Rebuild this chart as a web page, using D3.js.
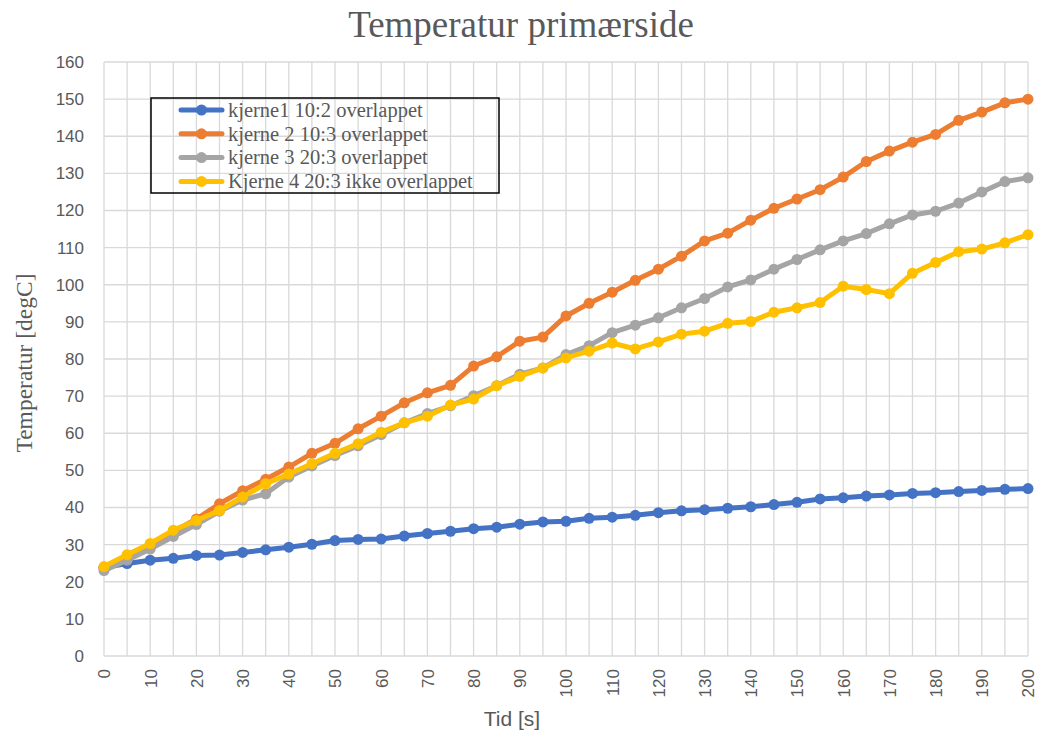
<!DOCTYPE html>
<html><head><meta charset="utf-8">
<script src="https://cdn.jsdelivr.net/npm/d3@7"></script>
<style>body{margin:0;background:#fff}</style>
</head><body>
<svg id="c" width="1037" height="731"></svg>
<script>
const times = d3.range(0, 201, 5);
const xTickLabels = d3.range(0, 201, 10);
const yTickLabels = d3.range(0, 161, 10);
const seriesNames = ["kjerne1 10:2 overlappet", "kjerne 2 10:3 overlappet", "kjerne 3 20:3 overlappet", "Kjerne 4 20:3 ikke overlappet"];
const seriesColors = ["#4472C4", "#ED7D31", "#A5A5A5", "#FFC000"];
const kjerne1 = [23.8,24.9,25.8,26.3,27.1,27.2,27.9,28.6,29.3,30.1,31.1,31.4,31.5,32.3,33.0,33.6,34.3,34.7,35.5,36.1,36.3,37.1,37.4,37.9,38.6,39.1,39.4,39.8,40.2,40.8,41.4,42.3,42.6,43.1,43.4,43.8,44.0,44.3,44.6,44.9,45.1];
const kjerne2 = [23.8,26.5,29.6,33.5,36.9,41.0,44.5,47.6,50.9,54.6,57.3,61.2,64.6,68.2,70.9,72.9,78.1,80.6,84.8,85.9,91.6,95.0,98.0,101.2,104.2,107.7,111.8,113.9,117.4,120.6,123.1,125.6,129.0,133.2,136.0,138.4,140.5,144.3,146.5,149.0,150.0];
const kjerne3 = [23.0,25.8,28.8,32.2,35.4,39.0,42.0,43.7,48.2,51.2,54.0,56.6,59.6,62.8,65.3,67.4,70.1,72.8,75.9,77.6,81.2,83.6,87.1,89.1,91.1,93.8,96.3,99.4,101.3,104.2,106.8,109.4,111.8,113.8,116.4,118.8,119.8,122.0,125.0,127.8,128.8];
const kjerne4 = [24.1,27.3,30.3,33.9,36.5,39.2,42.8,46.4,49.0,51.8,54.6,57.2,60.3,62.8,64.6,67.6,69.2,72.8,75.3,77.6,80.3,82.1,84.3,82.7,84.6,86.7,87.5,89.6,90.1,92.6,93.8,95.2,99.6,98.7,97.6,103.1,106.0,108.9,109.6,111.3,113.5];
const allSeries = [kjerne1, kjerne2, kjerne3, kjerne4];

const svg = d3.select("#c");
const L = 104, R = 1028, T = 62, B = 656;
const x = d3.scaleLinear().domain([0, 200]).range([L, R]);
const y = d3.scaleLinear().domain([0, 160]).range([B, T]);
const txt = "#595959", grid = "#d9d9d9";
const sans = "'Liberation Sans', Arial, sans-serif";
const serif = "'Liberation Serif', 'Times New Roman', serif";

// grid
svg.append("g").selectAll("line").data(yTickLabels).join("line")
  .attr("x1", L).attr("x2", R).attr("y1", d => y(d)).attr("y2", d => y(d))
  .attr("stroke", grid).attr("stroke-width", 1.3);
svg.append("g").selectAll("line").data(times).join("line")
  .attr("x1", d => x(d)).attr("x2", d => x(d)).attr("y1", T).attr("y2", B)
  .attr("stroke", grid).attr("stroke-width", 1.3);

// axes
const yAxis = d3.axisLeft(y).tickValues(yTickLabels).tickSize(0).tickPadding(0);
const gy = svg.append("g").attr("transform", `translate(${L - 20},0)`).call(yAxis);
gy.select(".domain").remove();
gy.selectAll("text").attr("fill", txt).style("font-family", sans).style("font-size", "17px");

const xAxis = d3.axisBottom(x).tickValues(xTickLabels).tickSize(0).tickPadding(0);
const gx = svg.append("g").attr("transform", `translate(0,${B + 13})`).call(xAxis);
gx.select(".domain").remove();
gx.selectAll("text").attr("fill", txt).style("font-family", sans).style("font-size", "17px")
  .attr("transform", "rotate(-90)").attr("text-anchor", "end").attr("dy", "0.35em").attr("y", 0).attr("x", 0);

// series
const line = d3.line().x((d, i) => x(times[i])).y(d => y(d));
allSeries.forEach((s, k) => {
  const g = svg.append("g");
  g.append("path").datum(s).attr("d", line).attr("fill", "none")
    .attr("stroke", seriesColors[k]).attr("stroke-width", 5).attr("stroke-linejoin", "round");
  g.selectAll("circle").data(s).join("circle")
    .attr("cx", (d, i) => x(times[i])).attr("cy", d => y(d)).attr("r", 5.5)
    .attr("fill", seriesColors[k]);
});

// title
svg.append("text").attr("x", 521).attr("y", 37).attr("text-anchor", "middle")
  .attr("fill", txt).style("font-family", serif).style("font-size", "37px")
  .text("Temperatur primærside");
svg.append("text").attr("transform", "translate(32,363) rotate(-90)").attr("text-anchor", "middle")
  .attr("fill", txt).style("font-family", serif).style("font-size", "23.5px")
  .text("Temperatur [degC]");
svg.append("text").attr("x", 512).attr("y", 726).attr("text-anchor", "middle")
  .attr("fill", txt).style("font-family", sans).style("font-size", "21px")
  .text("Tid [s]");

// legend
const lg = svg.append("g");
lg.append("rect").attr("x", 151).attr("y", 98).attr("width", 348).attr("height", 95)
  .attr("fill", "none").attr("stroke", "#000").attr("stroke-width", 1.5);
seriesNames.forEach((n, k) => {
  const cy = 110 + k * 23.8;
  lg.append("line").attr("x1", 181).attr("x2", 222).attr("y1", cy).attr("y2", cy)
    .attr("stroke", seriesColors[k]).attr("stroke-width", 5).attr("stroke-linecap", "round");
  lg.append("circle").attr("cx", 201.5).attr("cy", cy).attr("r", 5.5).attr("fill", seriesColors[k]);
  lg.append("text").attr("x", 228).attr("y", cy).attr("dy", "0.33em")
    .attr("fill", txt).style("font-family", serif).style("font-size", "20.5px").text(n);
});
</script>
</body></html>
